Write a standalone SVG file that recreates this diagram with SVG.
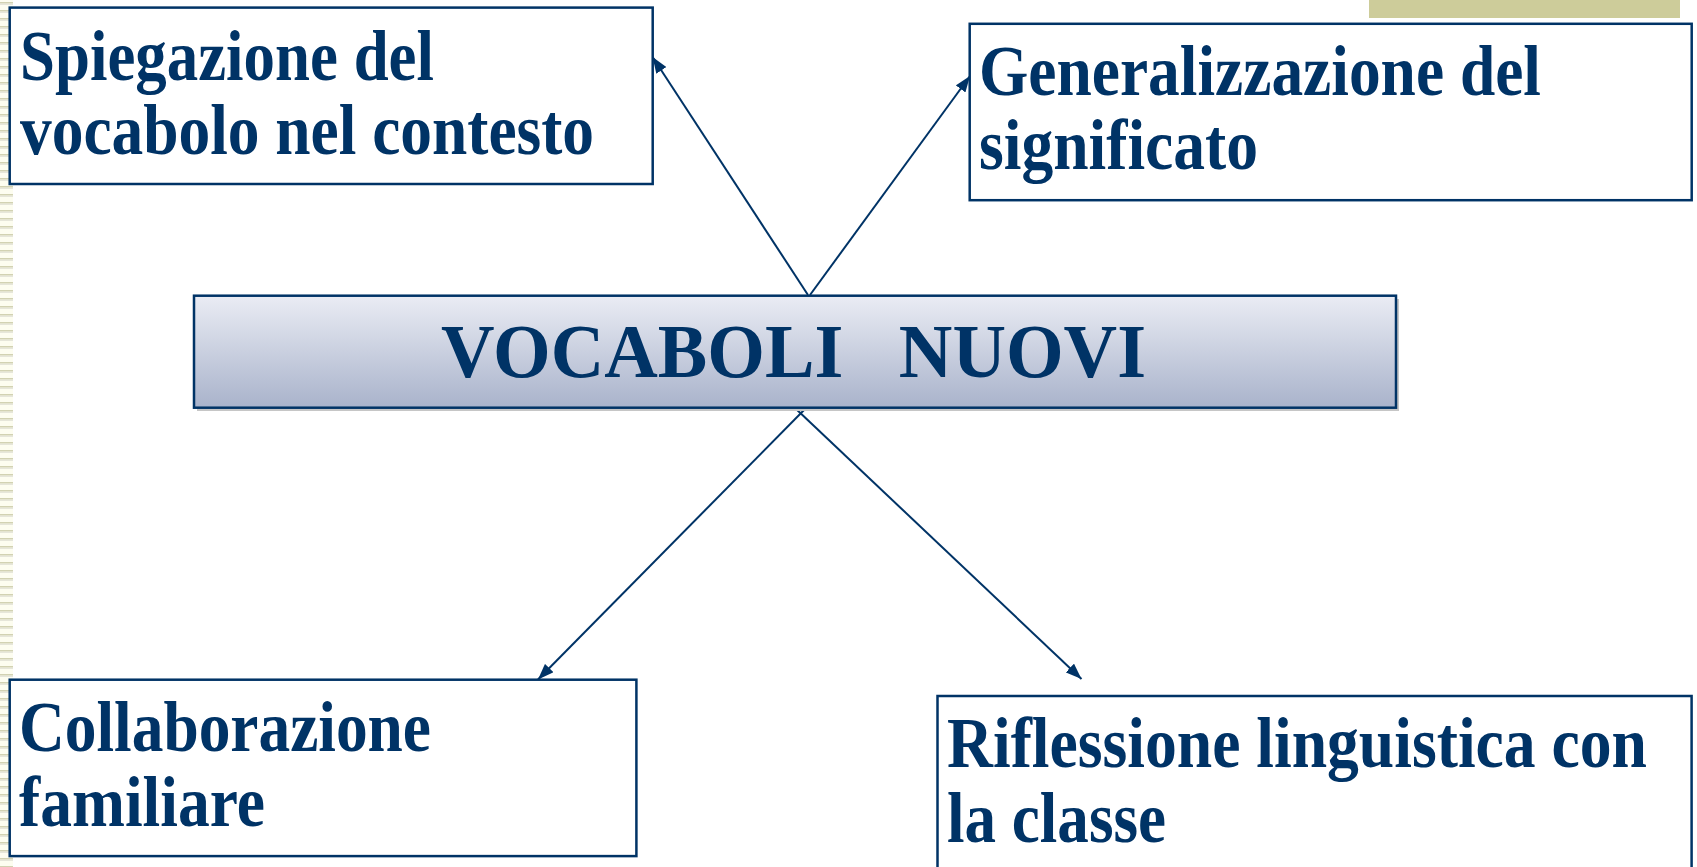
<svg xmlns="http://www.w3.org/2000/svg" width="1697" height="867" viewBox="0 0 1697 867">
  <style>
    .box { fill: #ffffff; stroke: #003366; stroke-width: 2.5; }
    .lbl { font-family: "Liberation Serif", "Times New Roman", serif; font-weight: bold; font-size: 72px; fill: #003366; }
    .big { font-size: 76px; }
    .conn { stroke: #003366; stroke-width: 2; fill: none; marker-end: url(#arrow); }
  </style>
  <defs>
    <linearGradient id="centerGrad" x1="0" y1="0" x2="0" y2="1">
      <stop offset="0" stop-color="#eaecf4"/>
      <stop offset="1" stop-color="#a9b3cb"/>
    </linearGradient>
    <pattern id="stripes" x="0" y="0" width="13" height="8" patternUnits="userSpaceOnUse">
      <rect x="0" y="0" width="13" height="8" fill="#fdfdf0"/>
      <rect x="0" y="2" width="13" height="1.6" fill="#d2d2b2"/>
      <rect x="0" y="3.6" width="13" height="1.4" fill="#e6e6da"/>
    </pattern>
    <marker id="arrow" viewBox="0 0 16 12" refX="16" refY="6" markerWidth="16" markerHeight="12" markerUnits="userSpaceOnUse" orient="auto">
      <path d="M0,0 L16,6 L0,12 Z" fill="#003366"/>
    </marker>
  </defs>

  <rect x="0" y="0" width="1697" height="867" fill="#ffffff"/>
  <rect id="margin-stripes" x="0" y="0" width="13" height="867" fill="url(#stripes)"/>
  <rect id="corner-bar" x="1369" y="0" width="311" height="18" fill="#cdcc9a"/>

  <g id="connectors">
    <line class="conn" x1="808" y1="295" x2="652.6" y2="57"/>
    <line class="conn" x1="810" y1="295" x2="970" y2="76"/>
    <line class="conn" x1="806" y1="408" x2="538" y2="679.5"/>
    <line class="conn" x1="795" y1="408" x2="1081.5" y2="679"/>
  </g>

  <g id="node-center">
    <rect x="197" y="299" width="1202" height="112" fill="#c6c6c6"/>
    <rect x="194" y="295.7" width="1202" height="112" fill="url(#centerGrad)" stroke="#003366" stroke-width="2.5"/>
    <text class="lbl big" x="441" y="377" textLength="705" lengthAdjust="spacingAndGlyphs" xml:space="preserve">VOCABOLI   NUOVI</text>
  </g>

  <g id="node-spiegazione">
    <rect class="box" x="9.7" y="7.6" width="643" height="176.4"/>
    <text class="lbl" x="20" y="80" textLength="414" lengthAdjust="spacingAndGlyphs">Spiegazione del</text>
    <text class="lbl" x="20" y="153.5" textLength="574" lengthAdjust="spacingAndGlyphs">vocabolo nel contesto</text>
  </g>

  <g id="node-generalizzazione">
    <rect class="box" x="969.7" y="23.8" width="722" height="176.4"/>
    <text class="lbl" x="979" y="95" textLength="562" lengthAdjust="spacingAndGlyphs">Generalizzazione del</text>
    <text class="lbl" x="979" y="169" textLength="279" lengthAdjust="spacingAndGlyphs">significato</text>
  </g>

  <g id="node-collaborazione">
    <rect class="box" x="9.7" y="679.7" width="626.7" height="176.4"/>
    <text class="lbl" x="19" y="751" textLength="412" lengthAdjust="spacingAndGlyphs">Collaborazione</text>
    <text class="lbl" x="19" y="825.5" textLength="246" lengthAdjust="spacingAndGlyphs">familiare</text>
  </g>

  <g id="node-riflessione">
    <rect class="box" x="937.5" y="696" width="754.1" height="176.4"/>
    <text class="lbl" x="947" y="767" textLength="700" lengthAdjust="spacingAndGlyphs">Riflessione linguistica con</text>
    <text class="lbl" x="947" y="842" textLength="219" lengthAdjust="spacingAndGlyphs">la classe</text>
  </g>
</svg>
